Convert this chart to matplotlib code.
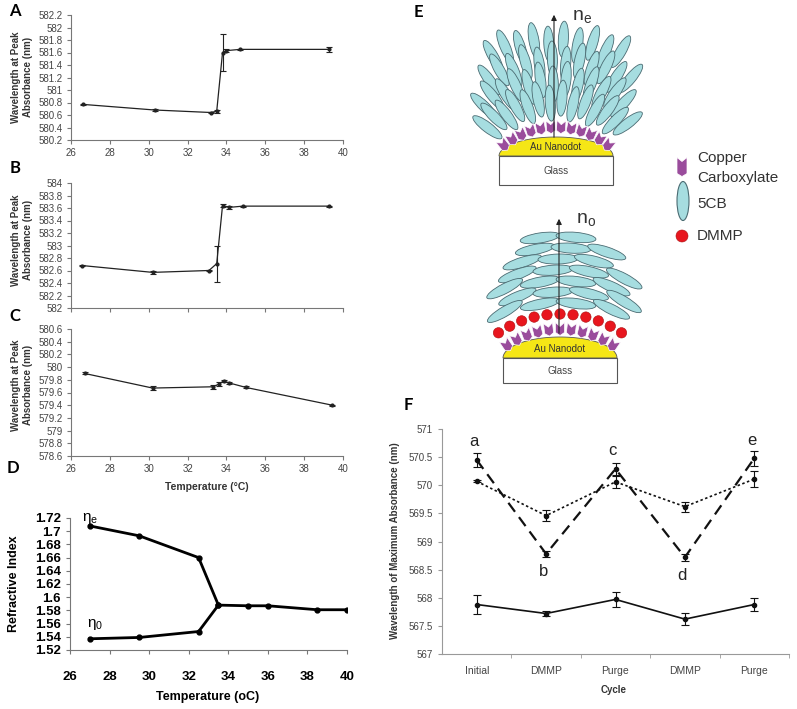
import numpy as np
import matplotlib
matplotlib.use('Agg')
import matplotlib.pyplot as plt
from matplotlib.patches import Ellipse, Polygon, Circle, Rectangle
from matplotlib.ticker import FuncFormatter

plt.rcParams['font.family'] = ['Liberation Sans', 'DejaVu Sans']

W, H = 797, 709

# ---- panel A/B/C : peak wavelength vs temperature ----
temp_a = [26.6, 30.3, 33.2, 33.5, 33.8, 34.0, 34.7, 39.3]
peak_a = [580.77, 580.68, 580.64, 580.66, 581.60, 581.63, 581.65, 581.65]
err_a = [0.01, 0.015, 0.01, 0.02, 0.29, 0.02, 0.01, 0.04]

temp_b = [26.55, 30.2, 33.1, 33.5, 33.8, 34.15, 34.85, 39.3]
peak_b = [582.68, 582.57, 582.60, 582.71, 583.64, 583.61, 583.63, 583.63]
err_b = [0.01, 0.02, 0.015, 0.29, 0.03, 0.02, 0.01, 0.01]

temp_c = [26.7, 30.2, 33.3, 33.6, 33.85, 34.15, 35.0, 39.45]
peak_c = [579.90, 579.67, 579.69, 579.73, 579.78, 579.75, 579.68, 579.40]
err_c = [0.015, 0.03, 0.03, 0.03, 0.01, 0.015, 0.015, 0.01]

# ---- panel D : refractive index ----
temp_e = [27, 29.5, 32.5, 33.5, 35, 36, 38.5, 40]
n_e = [1.708, 1.693, 1.660, 1.588, 1.587, 1.587, 1.581, 1.581]
temp_o = [27, 29.5, 32.5, 33.5]
n_o = [1.537, 1.539, 1.548, 1.588]

# ---- panel F : cycling ----
cycles = ['Initial', 'DMMP', 'Purge', 'DMMP', 'Purge']
f_dash = [570.45, 568.78, 570.29, 568.72, 570.48]
f_dash_err = [0.13, 0.06, 0.10, 0.06, 0.13]
f_dot = [570.07, 569.46, 570.06, 569.62, 570.11]
f_dot_err = [0.02, 0.10, 0.10, 0.09, 0.14]
f_solid = [567.88, 567.72, 567.97, 567.62, 567.88]
f_solid_err = [0.17, 0.05, 0.13, 0.11, 0.11]
point_tags = ['a', 'b', 'c', 'd', 'e']

fig = plt.figure(figsize=(W / 100, H / 100), dpi=100)


def px_axes(x0, y0, x1, y1):
    return fig.add_axes([x0 / W, 1 - y1 / H, (x1 - x0) / W, (y1 - y0) / H])


def ptext(x, y, s, **kw):
    fig.text(x / W, 1 - y / H, s, **kw)


def gfmt(v, p):
    return f'{v:g}'


def style_temp(ax, ylo, yhi, show_x=True):
    ax.set_xlim(26, 40)
    ax.set_ylim(ylo, yhi)
    ax.set_xticks(range(26, 41, 2))
    ax.set_yticks(np.round(np.arange(ylo, yhi + 0.001, 0.2), 1))
    ax.yaxis.set_major_formatter(FuncFormatter(gfmt))
    for s in ['top', 'right']:
        ax.spines[s].set_visible(False)
    for s in ['left', 'bottom']:
        ax.spines[s].set_color('#777777')
        ax.spines[s].set_linewidth(0.8)
    ax.tick_params(direction='out', length=3, width=0.8, color='#777777',
                   labelsize=7, labelcolor='#444444', pad=3)
    if not show_x:
        ax.tick_params(axis='x', labelbottom=False)


def temp_panel(ax, t, v, e):
    ax.errorbar(t, v, yerr=e, color='#222222', lw=0.9, elinewidth=0.8,
                capsize=2, capthick=0.8, marker='o', ms=2)


axA = px_axes(71, 15, 343, 140)
temp_panel(axA, temp_a, peak_a, err_a)
style_temp(axA, 580.2, 582.2)

axB = px_axes(71, 183, 343, 308)
temp_panel(axB, temp_b, peak_b, err_b)
style_temp(axB, 582.0, 584.0, show_x=False)

axC = px_axes(71, 329, 343, 456)
temp_panel(axC, temp_c, peak_c, err_c)
style_temp(axC, 578.6, 580.6)

for yc in [77, 240, 385]:
    ptext(22, yc, 'Wavelength at Peak\nAbsorbance (nm)', rotation=90, ha='center',
          va='center', fontsize=7, fontweight='bold', color='#333333', linespacing=1.25)
ptext(207, 487, 'Temperature (°C)', ha='center', va='center', fontsize=7.5,
      fontweight='bold', color='#333333')

# ---- D ----
axD = px_axes(70, 518, 347, 650)
axD.plot(temp_e, n_e, color='black', lw=2, marker='o', ms=3.5)
axD.plot(temp_o, n_o, color='black', lw=2, marker='o', ms=3.5)
axD.set_xlim(26, 40)
axD.set_ylim(1.52, 1.72)
axD.set_xticks(range(26, 41, 2))
axD.set_yticks(np.round(np.arange(1.52, 1.7201, 0.02), 2))
axD.yaxis.set_major_formatter(FuncFormatter(gfmt))
for s in ['top', 'right']:
    axD.spines[s].set_visible(False)
for s in ['left', 'bottom']:
    axD.spines[s].set_color('#777777')
axD.tick_params(direction='out', length=3, color='#777777', labelsize=9.5, labelcolor='black')
axD.tick_params(axis='x', pad=12)
for lbl in axD.get_xticklabels() + axD.get_yticklabels():
    lbl.set_fontweight('bold')
ptext(14, 584, 'Refractive Index', rotation=90, ha='center', va='center',
      fontsize=9, fontweight='bold')
ptext(208, 697, 'Temperature (oC)', ha='center', va='center', fontsize=9, fontweight='bold')
ptext(90, 518, r'$\mathregular{\eta_e}$', ha='center', va='center', fontsize=11)
ptext(95, 624, r'$\mathregular{\eta_0}$', ha='center', va='center', fontsize=11)

# ---- F ----
axF = px_axes(442, 429, 789, 654)
xs = np.arange(len(cycles))
ebk = dict(elinewidth=0.8, capsize=3, capthick=0.8, marker='o', ms=3, color='#111111')
axF.errorbar(xs, f_dash, yerr=f_dash_err, lw=1.6, ls=(0, (5, 3)), **ebk)
axF.errorbar(xs, f_dot, yerr=f_dot_err, lw=1.2, ls=(0, (1.5, 1.5)), **ebk)
axF.errorbar(xs, f_solid, yerr=f_solid_err, lw=1.2, ls='-', **ebk)
axF.set_xlim(-0.5, 4.5)
axF.set_ylim(567, 571)
axF.set_yticks(np.arange(567, 571.01, 0.5))
axF.yaxis.set_major_formatter(FuncFormatter(gfmt))
axF.set_xticks(xs)
axF.set_xticklabels(cycles)
axF.set_xticks(xs + 0.5, minor=True)
for s in ['top', 'right']:
    axF.spines[s].set_visible(False)
for s in ['left', 'bottom']:
    axF.spines[s].set_color('#999999')
axF.tick_params(axis='x', which='major', length=0, pad=9, labelsize=7.5, labelcolor='#444444')
axF.tick_params(axis='x', which='minor', length=3, color='#999999')
axF.tick_params(axis='y', length=3, color='#999999', labelsize=7, labelcolor='#444444')
for i, tag in enumerate(point_tags):
    off = 13 if i % 2 == 0 else -13
    axF.annotate(tag, (xs[i], f_dash[i]), xytext=(-2, off), textcoords='offset points',
                 ha='center', va='center', fontsize=12, color='#222222')
ptext(395, 541, 'Wavelength of Maximum Absorbance (nm)', rotation=90, ha='center',
      va='center', fontsize=7, fontweight='bold', color='#333333')
ptext(614, 690, 'Cycle', ha='center', va='center', fontsize=7, fontweight='bold', color='#333333')

# ---- E : schematic (drawn in pixel coordinates) ----
axE = px_axes(400, 0, 797, 390)
axE.set_xlim(400, 797)
axE.set_ylim(390, 0)
axE.axis('off')

CB_FACE = '#a6dde0'
CB_EDGE = '#4a6b72'
PURPLE = '#9a4c9c'
RED = '#e8161e'
GOLD = '#f5e616'


def chevron(cx, cy, ang, w=9.0, h=13.0, z=3):
    pts = np.array([[-w / 2, -h / 2], [0, -h / 2 + 4], [w / 2, -h / 2],
                    [w / 2, h / 2 - 3], [0, h / 2], [-w / 2, h / 2 - 3]])
    t = np.radians(ang)
    rot = np.array([[np.cos(t), -np.sin(t)], [np.sin(t), np.cos(t)]])
    pts = pts @ rot.T + [cx, cy]
    axE.add_patch(Polygon(pts, closed=True, fc=PURPLE, ec='white', lw=0.5, zorder=z))


def arc_pos(fx, fy, r, a):
    t = np.radians(a)
    return fx + r * np.sin(t), fy - r * np.cos(t)


def nanodot(cx, top, base, half_w, glass_h):
    tt = np.linspace(0, np.pi, 60)
    pts = np.column_stack([cx + half_w * np.cos(tt), base - (base - top) * np.sin(tt)])
    axE.add_patch(Polygon(pts, closed=True, fc=GOLD, ec='#555555', lw=0.6, zorder=2))
    axE.add_patch(Rectangle((cx - half_w, base), 2 * half_w, glass_h, fc='white',
                            ec='#555555', lw=0.8, zorder=2))
    axE.text(cx, base - 9, 'Au Nanodot', ha='center', va='center', fontsize=7, color='#333333', zorder=6)
    axE.text(cx, base + glass_h / 2 + 1, 'Glass', ha='center', va='center', fontsize=7, color='#444444', zorder=6)


# top: homeotropic 5CB
fx, fy = 556, 212
top_rows = [(170, 10, 22, 0.0), (150, 12, 28, 1.2), (130, 13, 33, -1.2), (111, 14, 39, 0.0)]
for r, n, span, shift in top_rows:
    for j, a in enumerate(np.linspace(-span, span, n) + shift):
        cx, cy = arc_pos(fx, fy, r + (3 if j % 2 else -2), a)
        axE.add_patch(Ellipse((cx, cy), 10, 36, angle=a * 1.35, fc=CB_FACE, ec=CB_EDGE, lw=0.6, zorder=1))
for a in np.linspace(-38, 38, 12):
    cx, cy = arc_pos(fx, fy, 85, a)
    chevron(cx, cy, a)
nanodot(556, 137, 156, 57, 29)
axE.annotate('', xy=(554, 12), xytext=(554, 140),
             arrowprops=dict(arrowstyle='-|>', lw=0.8, color='#222222', mutation_scale=8), zorder=7)
axE.text(572, 17, r'n$_\mathregular{e}$', ha='left', va='center', fontsize=14, color='#333333')

# bottom: planar 5CB with DMMP
fx2, fy2 = 562, 500
for k, n in reversed(list(enumerate([4, 4, 4, 4, 3, 3, 2]))):
    r = 197 + 11 * k
    step = np.degrees(36 / r)
    shift = np.degrees((9 if k % 2 else -4) / r)
    for a in (np.arange(n) - (n - 1) / 2) * step + shift:
        cx, cy = arc_pos(fx2, fy2, r, a)
        axE.add_patch(Ellipse((cx, cy), 40, 10, angle=a * 1.8, fc=CB_FACE, ec=CB_EDGE, lw=0.6, zorder=1))
for a in np.linspace(-34, 34, 11):
    cx, cy = arc_pos(560, 424, 95, a)
    chevron(cx, cy, a)
    cx, cy = arc_pos(560, 424, 110, a)
    axE.add_patch(Circle((cx, cy), 5.2, fc=RED, ec='#aa1010', lw=0.4, zorder=4))
nanodot(560, 337, 358, 57, 25)
axE.annotate('', xy=(559, 216), xytext=(559, 336),
             arrowprops=dict(arrowstyle='-|>', lw=0.8, color='#222222', mutation_scale=8), zorder=7)
axE.text(576, 220, r'n$_\mathregular{o}$', ha='left', va='center', fontsize=14, color='#333333')

# legend
chevron(682, 167, 0, w=10, h=19)
axE.add_patch(Ellipse((683, 201), 12, 39, fc=CB_FACE, ec=CB_EDGE, lw=0.8))
axE.add_patch(Circle((682, 236), 6, fc=RED, ec='#aa1010', lw=0.4))
axE.text(697, 158, 'Copper', ha='left', va='center', fontsize=11, color='#333333')
axE.text(697, 178, 'Carboxylate', ha='left', va='center', fontsize=11, color='#333333')
axE.text(697, 204, '5CB', ha='left', va='center', fontsize=11, color='#333333')
axE.text(697, 236, 'DMMP', ha='left', va='center', fontsize=11, color='#333333')

# panel letters
for letter, x, y in [('A', 15, 11), ('B', 15, 168), ('C', 15, 316), ('D', 13, 468),
                     ('E', 418, 12), ('F', 408, 405)]:
    ptext(x, y, letter, ha='center', va='center', fontsize=12, fontweight='bold', family='Lato')

fig.savefig('out.png', dpi=100)
